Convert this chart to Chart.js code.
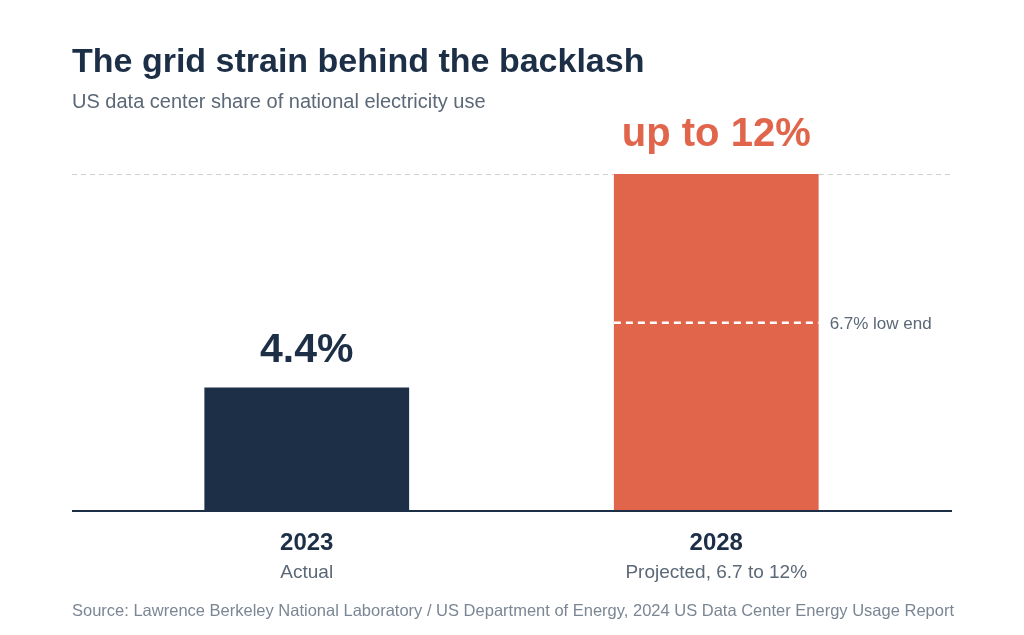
<!DOCTYPE html>
<html>
<head>
<meta charset="utf-8">
<script src="https://cdn.jsdelivr.net/npm/chart.js@4"></script>
<style>
html, body { margin: 0; padding: 0; background: #fff; }
#wrap { width: 1024px; height: 635px; position: relative; }
</style>
</head>
<body>
<div id="wrap"><canvas id="chart" width="1024" height="635"></canvas></div>
<script>
const years = ['2023', '2028']
const subLabels = ['Actual', 'Projected, 6.7 to 12%']
const shares = [4.4, 12]
const valueLabels = ['4.4%', 'up to 12%']
const lowEnd = 6.7
const colors = ['#1d2f47', '#e0654b']

const navy = '#1d2f47'
const grey = '#5b6877'
const font = '"Liberation Sans", Arial, sans-serif'

// ------- everything around the bars is drawn here ----------
const decor = {
  id: 'decor',
  beforeDatasetsDraw(chart) {
    const c = chart.ctx
    const y = chart.scales.y
    c.save()
    c.strokeStyle = '#d0d0d0'
    c.lineWidth = 1
    c.setLineDash([5, 4])
    c.beginPath()
    c.moveTo(72, y.getPixelForValue(12) + 0.5)
    c.lineTo(952, y.getPixelForValue(12) + 0.5)
    c.stroke()
    c.restore()
  },
  afterDatasetsDraw(chart) {
    const c = chart.ctx
    const x = chart.scales.x
    const y = chart.scales.y
    const meta = chart.getDatasetMeta(0)
    c.save()
    // baseline
    c.strokeStyle = navy
    c.lineWidth = 2
    c.beginPath()
    c.moveTo(72, y.getPixelForValue(0))
    c.lineTo(952, y.getPixelForValue(0))
    c.stroke()

    // low end marker
    const bar = meta.data[1]
    const ly = y.getPixelForValue(lowEnd)
    c.strokeStyle = '#fff'
    c.lineWidth = 2.5
    c.setLineDash([7, 5])
    c.beginPath()
    c.moveTo(bar.x - bar.width / 2, ly)
    c.lineTo(bar.x + bar.width / 2, ly)
    c.stroke()
    c.setLineDash([])
    c.fillStyle = grey
    c.font = '17px ' + font
    c.textBaseline = 'middle'
    c.textAlign = 'left'
    c.fillText(lowEnd + '% low end', bar.x + bar.width / 2 + 11, ly + 1)

    // value labels
    c.textAlign = 'center'
    c.textBaseline = 'alphabetic'
    c.fillStyle = navy
    c.font = 'bold 41px ' + font
    c.fillText(valueLabels[0], meta.data[0].x, y.getPixelForValue(shares[0]) - 25)
    c.fillStyle = colors[1]
    c.font = 'bold 40px ' + font
    c.fillText(valueLabels[1], meta.data[1].x, y.getPixelForValue(shares[1]) - 28)

    // category labels
    years.forEach((yr, i) => {
      const px = x.getPixelForValue(i)
      c.fillStyle = navy
      c.font = 'bold 24px ' + font
      c.fillText(yr, px, 550)
      c.fillStyle = grey
      c.font = '19px ' + font
      c.fillText(subLabels[i], px, 578)
    })

    // title, subtitle, source
    c.textAlign = 'left'
    c.fillStyle = navy
    c.font = 'bold 34px ' + font
    c.fillText('The grid strain behind the backlash', 72, 72)
    c.fillStyle = grey
    c.font = '20px ' + font
    c.fillText('US data center share of national electricity use', 72, 108)
    c.fillStyle = '#7b8694'
    c.font = '16.5px ' + font
    c.fillText('Source: Lawrence Berkeley National Laboratory / US Department of Energy, 2024 US Data Center Energy Usage Report', 72, 616)
    c.restore()
  }
}

new Chart(document.getElementById('chart'), {
  type: 'bar',
  data: {
    labels: years,
    datasets: [{
      data: shares,
      backgroundColor: colors,
      borderWidth: 0,
      barPercentage: 0.5,
      categoryPercentage: 1
    }]
  },
  options: {
    responsive: false,
    animation: false,
    layout: { padding: { left: 102, right: 103, top: 174, bottom: 124 } },
    plugins: { legend: { display: false }, tooltip: { enabled: false } },
    scales: {
      x: { display: false },
      y: { display: false, min: 0, max: 12 }
    }
  },
  plugins: [decor]
})
</script>
</body>
</html>
